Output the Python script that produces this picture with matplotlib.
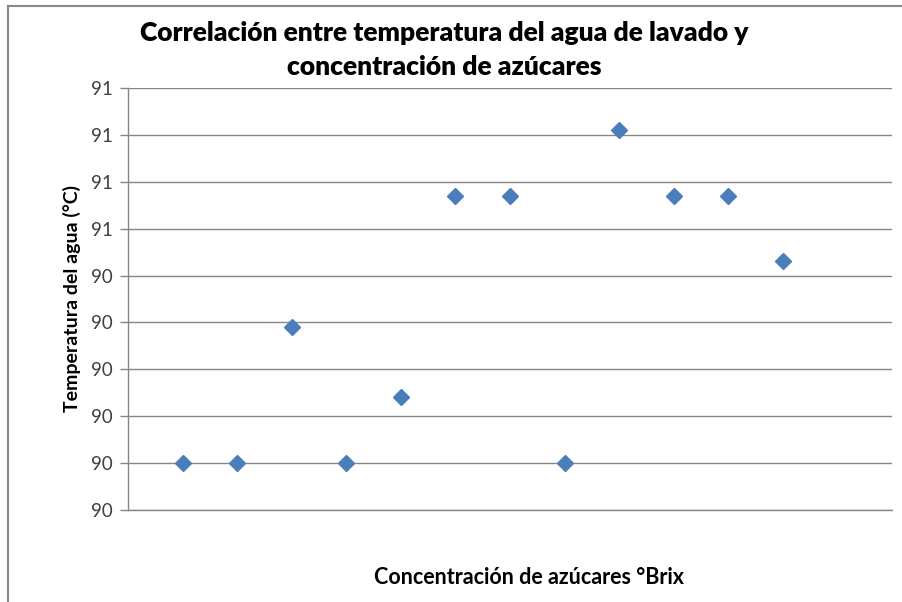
import matplotlib
matplotlib.use('Agg')
import matplotlib.pyplot as plt
import numpy as np
from matplotlib.patches import Rectangle

# ==========================================
# Datos
# ==========================================
muestras = [1, 2, 3, 4, 5, 6, 7, 8, 9, 10, 11, 12]
temperatura = [90.0, 90.0, 90.29, 90.0, 90.14, 90.57, 90.57, 90.0, 90.71, 90.57, 90.57, 90.43]
y_ticks = [89.9, 90.0, 90.1, 90.2, 90.3, 90.4, 90.5, 90.6, 90.7, 90.8]
y_tick_labels = ['90', '90', '90', '90', '90', '90', '91', '91', '91', '91']

titulo = 'Correlación entre temperatura del agua de lavado y\nconcentración de azúcares'
etiqueta_x = 'Concentración de azúcares °Brix'
etiqueta_y = 'Temperatura del agua (°C)'

plt.rcParams['font.family'] = ['Lato', 'DejaVu Sans']

fig = plt.figure(figsize=(9.02, 6.02), dpi=100)
ax = fig.add_axes([128 / 902, 1 - 510 / 602, (892 - 128) / 902, (510 - 88) / 602])

ax.plot(muestras, temperatura, linestyle='none', marker='D', markersize=8.5,
        color='#4A7EBB', markeredgecolor='#4A7EBB', zorder=5)

ax.set_xlim(0, 14)
ax.set_ylim(89.9, 90.8)
ax.set_yticks(y_ticks)
ax.set_yticklabels(y_tick_labels, fontsize=13.5, color='#404040')
ax.set_xticks([])
ax.tick_params(axis='y', length=6, width=1, color='#868686', pad=5)

ax.grid(True, axis='y', color='#868686', linewidth=1)
ax.set_axisbelow(True)
for lado in ['top', 'right']:
    ax.spines[lado].set_visible(False)
for lado in ['left', 'bottom']:
    ax.spines[lado].set_color('#868686')
    ax.spines[lado].set_linewidth(1)

fig.text(444 / 902, 1 - 50 / 602, titulo, ha='center', va='center',
         fontsize=19, fontweight='heavy', color='black', linespacing=1.5)
fig.text(529 / 902, 1 - 578 / 602, etiqueta_x, ha='center', va='center',
         fontsize=15.5, fontweight='bold', color='black')
fig.text(72 / 902, 1 - 298 / 602, etiqueta_y, ha='center', va='center',
         rotation=90, fontsize=14, fontweight='bold', color='black')

# marco del área del gráfico
fig.patches.append(Rectangle((8 / 902, -0.1), 2, 1.1 - 6 / 602, transform=fig.transFigure,
                             fill=False, edgecolor='#888888', linewidth=1.5))

fig.savefig('out.png', dpi=100)
